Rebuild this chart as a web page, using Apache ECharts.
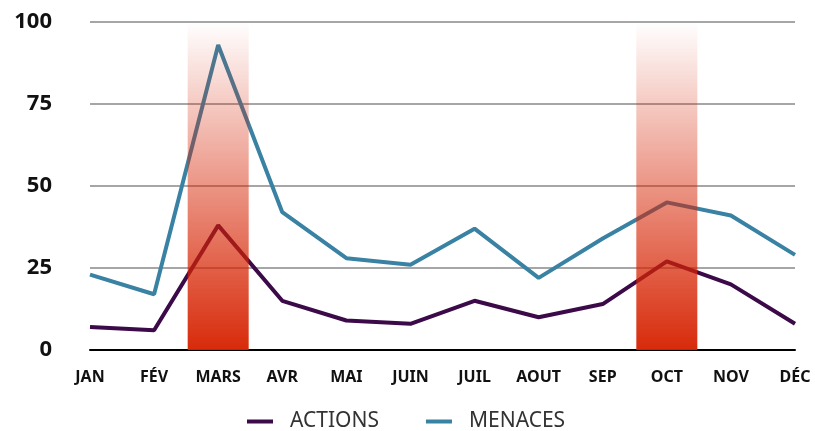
<!DOCTYPE html>
<html>
<head>
<meta charset="utf-8">
<script src="https://cdn.jsdelivr.net/npm/echarts@6/dist/echarts.min.js"></script>
<style>
  html, body { margin: 0; padding: 0; background: #fff; }
  #chart { width: 815px; height: 431px; }
</style>
</head>
<body>
<div id="chart"></div>
<script>
const months = ['JAN', 'FÉV', 'MARS', 'AVR', 'MAI', 'JUIN', 'JUIL', 'AOUT', 'SEP', 'OCT', 'NOV', 'DÉC']
const actions = [7, 6, 38, 15, 9, 8, 15, 10, 14, 27, 20, 8]
const menaces = [23, 17, 93, 42, 28, 26, 37, 22, 34, 45, 41, 29]
// highlighted months (full-height bands)
const highlight = [null, null, 100, null, null, null, null, null, null, 100, null, null]
const yTicks = [0, 25, 50, 75, 100]

const font = 'Noto Sans'
const myChart = echarts.init(document.getElementById('chart'))
myChart.setOption({
  animation: false,
  grid: { left: 90, right: 20, top: 22, bottom: 81 },
  legend: {
    data: ['ACTIONS', 'MENACES'],
    top: 406,
    left: 242,
    itemGap: 47,
    itemWidth: 26,
    itemHeight: 4,
    icon: 'rect',
    textStyle: { fontFamily: font, fontSize: 21, color: '#333', padding: [0, 0, 0, 12] }
  },
  xAxis: {
    type: 'category',
    boundaryGap: false,
    data: months,
    axisLine: { lineStyle: { color: '#000', width: 2 } },
    axisTick: { show: false },
    axisLabel: {
      interval: 0,
      margin: 19,
      fontFamily: font,
      fontWeight: 'bold',
      fontSize: 16,
      color: '#111'
    }
  },
  yAxis: {
    type: 'value',
    min: yTicks[0],
    max: yTicks[yTicks.length - 1],
    interval: 25,
    axisLine: { show: false },
    axisTick: { show: false },
    splitLine: { lineStyle: { color: '#a6a6a6', width: 2 } },
    axisLabel: {
      margin: 38,
      fontFamily: font,
      fontWeight: 'bold',
      fontSize: 22,
      color: '#111'
    }
  },
  series: [
    {
      name: 'ACTIONS',
      type: 'line',
      data: actions,
      symbol: 'none',
      color: '#3c0a49',
      lineStyle: { width: 4, color: '#3c0a49' },
      z: 2
    },
    {
      name: 'MENACES',
      type: 'line',
      data: menaces,
      symbol: 'none',
      color: '#3a82a3',
      lineStyle: { width: 4, color: '#3a82a3' },
      z: 2
    },
    {
      name: 'band',
      type: 'bar',
      data: highlight,
      barWidth: 61,
      silent: true,
      z: 3,
      itemStyle: {
        color: new echarts.graphic.LinearGradient(0, 0, 0, 1, [
          { offset: 0, color: 'rgba(214, 34, 0, 0)' },
          { offset: 1, color: 'rgba(214, 34, 0, 0.96)' }
        ])
      }
    }
  ]
})
</script>
</body>
</html>
